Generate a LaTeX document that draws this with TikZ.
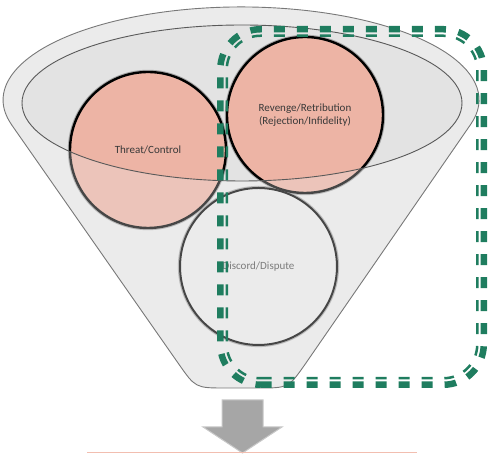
\documentclass[tikz,border=0pt]{standalone}
\usepackage{fontspec}
\setmainfont{Carlito}
\definecolor{funnelgray}{RGB}{235,235,235}
\definecolor{innergray}{RGB}{227,227,227}
\definecolor{pinkfill}{RGB}{237,180,165}
\definecolor{mygreen}{RGB}{31,125,95}
\definecolor{outlinegray}{RGB}{120,120,120}
\definecolor{arrowgray}{RGB}{166,166,166}
\definecolor{arrowedge}{RGB}{200,200,200}
\definecolor{pinkline}{RGB}{242,190,176}
\newcommand\funnelP{(11.4,329.5) -- (178.3,90.6) .. controls (195.5,66) .. (225.5,66) -- (258.5,66) .. controls (288.5,66) .. (305.7,90.6) -- (470.6,329.5) arc[start angle=-15.3, end angle=195.3, x radius=238, y radius=93] -- cycle}
% rounded rectangle: x1 y1 x2 y2 r
\newcommand\rrect[5]{(#1+#5,#2) -- (#3-#5,#2) arc[start angle=-90, end angle=0, radius=#5] -- (#3,#4-#5) arc[start angle=0, end angle=90, radius=#5] -- (#1+#5,#4) arc[start angle=90, end angle=180, radius=#5] -- (#1,#2+#5) arc[start angle=180, end angle=270, radius=#5] -- cycle}
\begin{document}
\begin{tikzpicture}[x=1pt,y=1pt,
  circtext/.style={font=\fontsize{11}{12.5}\selectfont, align=center, inner sep=0pt},
  pinkcirc/.style={circle, circtext, fill=pinkfill, draw=black, line width=2.4, text=black!78},
  graycirc/.style={circle, circtext, fill=funnelgray, draw=black, line width=2, text=black!70},
  halo/.style={draw=black!35, line width=1.2},
  ellipseline/.style={draw=black!65, line width=0.9},
  greenband/.style={draw=mygreen, line width=11, dash pattern=on 11 off 12}]
\useasboundingbox (0,0) rectangle (488,454);
% funnel body
\fill[funnelgray] \funnelP;
\fill[innergray] (242,351) ellipse[x radius=220, y radius=78];
% circles
\draw[halo] (148,304) circle[radius=79.6];
\draw[halo] (305,339) circle[radius=79.6];
\draw[halo] (258.5,187.5) circle[radius=80];
\node[pinkcirc, minimum size=156] (threat) at (148,304) {Threat/Control};
\node[pinkcirc, minimum size=156] (revenge) at (305,339) {Revenge/Retribution\\(Rejection/Infidelity)};
\node[graycirc, minimum size=157] (discord) at (258.5,187.5) {Discord/Dispute};
% front of funnel, semi-transparent over the circles
\fill[funnelgray, fill opacity=0.3, even odd rule] \funnelP (242,351) ellipse[x radius=220, y radius=78];
\draw[draw=outlinegray, line width=0.9] \funnelP;
\draw[ellipseline] (242,351) ellipse[x radius=220, y radius=78];
% green compound dashed frame
\begin{scope}[even odd rule]
\clip (0,0) rectangle (488,454) \rrect{223.5}{72.5}{480.5}{421.5}{37} \rrect{225.5}{74.5}{478.5}{419.5}{35};
\draw[greenband] \rrect{222.5}{71.5}{481.5}{422.5}{38};
\end{scope}
% arrow and box edge
\filldraw[fill=arrowgray, draw=arrowedge, line width=1] (222,54) -- (263,54) -- (263,27) -- (282,27) -- (242.5,1) -- (203,27) -- (222,27) -- cycle;
\draw[pinkline, line width=1.5] (87,1.5) -- (417,1.5);
\end{tikzpicture}
\end{document}
